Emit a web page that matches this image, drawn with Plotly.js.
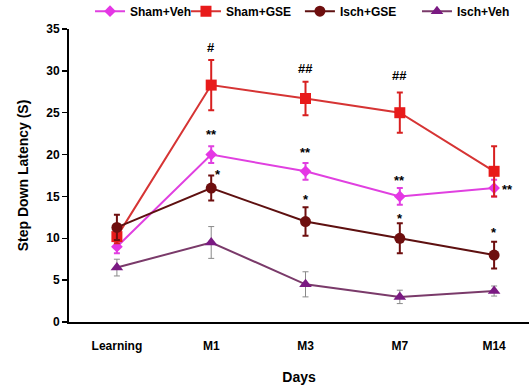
<!DOCTYPE html>
<html>
<head>
<meta charset="utf-8">
<script src="https://cdn.plot.ly/plotly-3.0.1.min.js"></script>
<style>html,body{margin:0;padding:0;background:#fff;}#chart{width:529px;height:385px;}</style>
</head>
<body>
<div id="chart"></div>
<script>
const categories = ["Learning", "M1", "M3", "M7", "M14"];
const shamVeh = [9.0, 20.0, 18.0, 15.0, 16.0];
const shamVehErr = [0.8, 1.0, 1.0, 1.0, 1.0];
const shamGse = [10.2, 28.3, 26.7, 25.0, 18.0];
const shamGseErr = [0.8, 3.0, 2.0, 2.4, 3.0];
const ischGse = [11.3, 16.0, 12.0, 10.0, 8.0];
const ischGseErr = [1.5, 1.5, 1.7, 1.8, 1.6];
const ischVeh = [6.5, 9.5, 4.5, 3.0, 3.7];
const ischVehErr = [1.0, 1.9, 1.5, 0.8, 0.6];
const yTicks = [0, 5, 10, 15, 20, 25, 30, 35];
// significance marks: [category index, y value, text, x pixel shift]
const marks = [
  [1, 32.8, "#", 0], [2, 30.3, "##", 0], [3, 29.5, "##", 0],
  [1, 22.4, "**", 0], [2, 20.2, "**", 0], [3, 16.9, "**", 0], [4, 15.8, "**", 13],
  [1, 17.6, "*", 7], [2, 14.6, "*", 0], [3, 12.4, "*", 0], [4, 10.7, "*", 0]
];

const FONT = "Liberation Sans, Arial, sans-serif";

function series(name, y, err, color, lineColor, errColor, errW, symbol, size, legendId) {
  return {
    type: "scatter", mode: "lines+markers", name: name,
    x: categories, y: y,
    error_y: {type: "data", array: err, visible: true, color: errColor, thickness: errW, width: 3},
    line: {color: lineColor, width: 2},
    marker: {color: color, symbol: symbol, size: size},
    legend: legendId
  };
}

const traces = [
  series("Sham+Veh", shamVeh, shamVehErr, "#E536E5", "#E040E0", "#E040E0", 2, "diamond", 9, "legend"),
  series("Sham+GSE", shamGse, shamGseErr, "#E81A1A", "#D63434", "#D82020", 2, "square", 11, "legend2"),
  series("Isch+GSE", ischGse, ischGseErr, "#6E0E0E", "#5E1010", "#6E0E0E", 2, "circle", 11, "legend3"),
  series("Isch+Veh", ischVeh, ischVehErr, "#7A1A82", "#7A3A6A", "#8A8A8A", 1, "triangle-up", 11, "legend4")
];

const legFont = {family: FONT, size: 12, color: "#000", weight: "bold"};
function leg(x) {
  return {orientation: "h", x: x, xref: "paper", y: 0.971, yref: "container", yanchor: "middle",
    xanchor: "left", font: legFont, bgcolor: "rgba(0,0,0,0)", itemwidth: 30, tracegroupgap: 0};
}

const annotations = marks.map(m => ({
  x: categories[m[0]], y: m[1], xref: "x", yref: "y", text: m[2], showarrow: false,
  xshift: m[3], font: {family: FONT, size: 13, color: "#000", weight: "bold"}
}));

const layout = {
  width: 529, height: 385,
  margin: {l: 69, r: 0, t: 29, b: 63},
  paper_bgcolor: "#fff", plot_bgcolor: "#fff",
  showlegend: true,
  legend: leg(0.0457), legend2: leg(0.2543), legend3: leg(0.502), legend4: leg(0.7565),
  xaxis: {
    type: "category", range: [-0.508, 4.37], showgrid: false, zeroline: false,
    showline: true, linecolor: "#000", linewidth: 2, ticks: "", ticklabelstandoff: 12,
    tickfont: {family: FONT, size: 12, color: "#000", weight: "bold"},
    title: {text: "Days", font: {family: FONT, size: 14, color: "#000", weight: "bold"}, standoff: 20}
  },
  yaxis: {
    range: [0, 35], tickvals: yTicks, showgrid: false, zeroline: false,
    showline: true, linecolor: "#000", linewidth: 2, ticks: "outside", ticklen: 5, tickwidth: 1.5, tickcolor: "#000",
    tickfont: {family: FONT, size: 12, color: "#000", weight: "bold"},
    title: {text: "Step Down Latency (S)", font: {family: FONT, size: 14, color: "#000", weight: "bold"}, standoff: 14}
  },
  annotations: annotations
};

Plotly.newPlot("chart", traces, layout, {displayModeBar: false, staticPlot: true});
</script>
</body>
</html>
